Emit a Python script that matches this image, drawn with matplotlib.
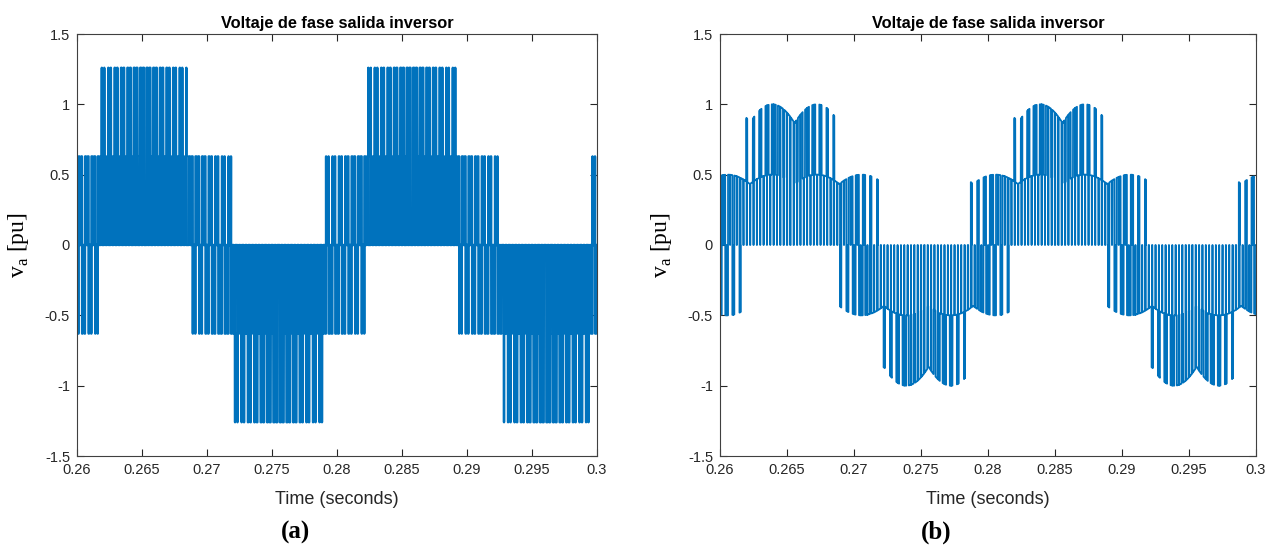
import numpy as np
import matplotlib.pyplot as plt

# ============================================================
# DATA
# ============================================================
T_WINDOW = [0.26, 0.30]          # s, x span of both panels
F_OUT = [48.5, 50.0]             # Hz, fundamental of v_a, panels (a), (b)
T_PEAK = [0.26515, 0.2652]       # s, centre of first positive top-level block
F_CARRIER = [2000.0, 2000.0]     # Hz, pulse spacing ~0.5 ms
M_INDEX = [0.5, 1.1]             # modulation index
SVPWM = [False, True]            # (b) has flat-topped, wide top pulses
V_TOP = [1.26, 1.0]              # pu, highest pulse level (2/3 Vdc)
RIPPLE_DIP = [1.0, 0.866]        # dc-link minimum / maximum (b dips to ~0.87)
RIPPLE_PEAK = 0.2639             # s, first dc-link ripple maximum in (b)
RIPPLE_F = 300.0                 # Hz, ripple bumps every ~3.3 ms
LINE_W = [1.7, 1.3]

XTICKS = [0.26, 0.265, 0.27, 0.275, 0.28, 0.285, 0.29, 0.295, 0.3]
XTICK_LABELS = ["0.26", "0.265", "0.27", "0.275", "0.28", "0.285", "0.29", "0.295", "0.3"]
YTICKS = [-1.5, -1, -0.5, 0, 0.5, 1, 1.5]
YTICK_LABELS = ["-1.5", "-1", "-0.5", "0", "0.5", "1", "1.5"]
PANEL_TAGS = ["(a)", "(b)"]
TAG_X = [296, 936]               # px, centres of the panel tags

TITLE = "Voltaje de fase salida inversor"
XLABEL = "Time (seconds)"
YLABEL = r"v$_\mathregular{a}$ [pu]"

BLUE = "#0072BD"
DT = 1e-6


# ============================================================
# Build the switched phase voltage
# ============================================================
def phase_voltage(k):
    t = np.arange(T_WINDOW[0], T_WINDOW[1] + DT, DT)
    w = 2 * np.pi * F_OUT[k]
    refs = np.array([M_INDEX[k] * np.cos(w * (t - T_PEAK[k]) - s)
                     for s in (0.0, 2 * np.pi / 3, -2 * np.pi / 3)])
    if SVPWM[k]:
        refs -= (refs.max(axis=0) + refs.min(axis=0)) / 2
    carrier = 2 * np.abs(2 * ((t * F_CARRIER[k]) % 1.0) - 1) - 1
    sw = (refs > carrier).astype(float)
    van = (2 * sw[0] - sw[1] - sw[2]) / 2      # 1 -> top level, 0.5 -> middle

    half = 1 / (2 * RIPPLE_F)
    ph = ((t - RIPPLE_PEAK + half) % (2 * half)) - half
    depth = np.arccos(RIPPLE_DIP[k]) / (np.pi / 6)
    vdc = np.cos(2 * np.pi * 50.0 * ph * depth)
    return t, V_TOP[k] * van * vdc


# ============================================================
# Plot
# ============================================================
plt.rcParams["axes.unicode_minus"] = False
fig = plt.figure(figsize=(12.72, 5.46), dpi=100)

lefts = [77 / 1272, 720 / 1272]
widths = [520 / 1272, 536 / 1272]
bottom = 1 - 456 / 546
height = (456 - 34) / 546

for k in range(2):
    ax = fig.add_axes([lefts[k], bottom, widths[k], height])
    t, v = phase_voltage(k)
    ax.plot(t, v, color=BLUE, lw=LINE_W[k])

    ax.set_xlim(T_WINDOW)
    ax.set_ylim(-1.5, 1.5)
    ax.set_xticks(XTICKS)
    ax.set_xticklabels(XTICK_LABELS)
    ax.set_yticks(YTICKS)
    ax.set_yticklabels(YTICK_LABELS)
    ax.tick_params(direction="in", length=5, width=0.8, top=True, right=True,
                   labelsize=10.5, colors="#262626", pad=5)
    for lab in ax.get_xticklabels() + ax.get_yticklabels():
        lab.set_family("Liberation Sans")
    for sp in ax.spines.values():
        sp.set_color("#404040")
        sp.set_linewidth(0.8)

    ax.set_title(TITLE, fontsize=11.8, fontweight="bold", family="Liberation Sans", pad=4)
    ax.set_xlabel(XLABEL, fontsize=13, family="Liberation Sans", color="#262626", labelpad=10)
    ax.set_ylabel(YLABEL, fontsize=17, family="Liberation Serif", labelpad=10)

    fig.text(TAG_X[k] / 1272, 1 - 532 / 546, PANEL_TAGS[k],
             ha="center", va="center", fontsize=18, fontweight="bold",
             family="Liberation Serif")

fig.savefig("out.png", dpi=100)
